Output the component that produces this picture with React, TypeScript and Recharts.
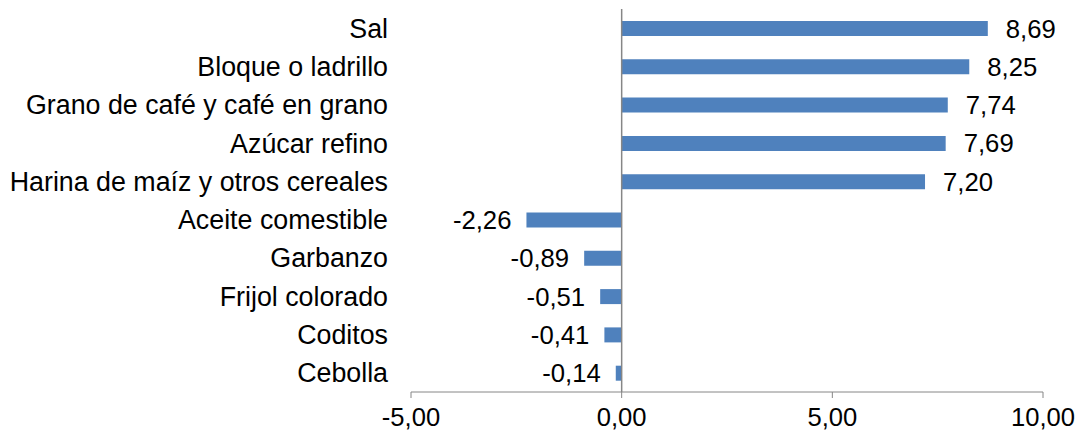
import { BarChart, Bar, XAxis, YAxis, ReferenceLine, LabelList } from "recharts";

const categories = [
  "Sal",
  "Bloque o ladrillo",
  "Grano de café y café en grano",
  "Azúcar refino",
  "Harina de maíz y otros cereales",
  "Aceite comestible",
  "Garbanzo",
  "Frijol colorado",
  "Coditos",
  "Cebolla",
];
const values = [8.69, 8.25, 7.74, 7.69, 7.2, -2.26, -0.89, -0.51, -0.41, -0.14];
const xTicks = [-5, 0, 5, 10];

const data = categories.map((name, i) => ({ name, value: values[i] }));

const fmt = (v: number) => v.toFixed(2).replace(".", ",");
const font = "'Liberation Sans', Arial, sans-serif";

// label to the right of positive bars, to the left of negative ones
const ValueLabel = (props: any) => {
  const { x, y, width, height, value } = props;
  const left = Math.min(x, x + width);
  const right = Math.max(x, x + width);
  const neg = value < 0;
  return (
    <text
      x={neg ? left - 15 : right + 18}
      y={y + height / 2}
      textAnchor={neg ? "end" : "start"}
      dominantBaseline="central"
      fontSize={25.7}
      fontFamily={font}
      fill="#000"
    >
      {fmt(value)}
    </text>
  );
};

export default function App() {
  return (
    <div style={{ position: "absolute", left: 0, top: 0, background: "#fff" }}>
      <BarChart
        width={1084}
        height={439}
        data={data}
        layout="vertical"
        margin={{ top: 9, right: 41, left: 0, bottom: 0 }}
      >
        <XAxis
          type="number"
          domain={[-5, 10]}
          ticks={xTicks}
          tickFormatter={fmt}
          height={47}
          stroke="#868686"
          tickSize={6}
          tickMargin={10}
          tick={{ fontSize: 25.6, fill: "#000", fontFamily: font }}
        />
        <YAxis
          type="category"
          dataKey="name"
          width={411}
          axisLine={false}
          tickLine={false}
          tickSize={0}
          tickMargin={23}
          tick={{ fontSize: 26.8, fill: "#000", fontFamily: font }}
        />
        <ReferenceLine x={0} stroke="#868686" strokeWidth={1.5} />
        <Bar dataKey="value" fill="#4F81BD" barSize={15} isAnimationActive={false}>
          <LabelList dataKey="value" content={ValueLabel} />
        </Bar>
      </BarChart>
    </div>
  );
}
